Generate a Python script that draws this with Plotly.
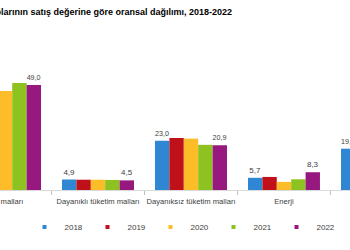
import plotly.graph_objects as go

categories = ["Ara malları", "Dayanıklı tüketim malları", "Dayanıksız tüketim malları", "Enerji", "Sermaye malları"]
years = ["2018", "2019", "2020", "2021", "2022"]
v2018 = [47.1, 4.9, 23.0, 5.7, 19.3]
v2019 = [45.5, 4.8, 24.3, 6.1, 19.3]
v2020 = [46.3, 4.8, 24.0, 3.8, 21.1]
v2021 = [50.0, 4.7, 21.1, 5.0, 19.2]
v2022 = [49.0, 4.5, 20.9, 8.3, 17.3]
series = [v2018, v2019, v2020, v2021, v2022]
labeled = ["2018", "2022"]
colors = ["#2f87d3", "#c0111b", "#fdbd28", "#8dc220", "#97197f"]

FONT = "Arial, Liberation Sans, sans-serif"
fig = go.Figure()
for yr, vals, col in zip(years, series, colors):
    txt = [f"{v:.1f}".replace(".", ",") for v in vals] if yr in labeled else None
    fig.add_trace(go.Bar(
        x=categories, y=vals, name=yr, marker_color=col, marker_line_width=0,
        text=txt, textposition="outside", cliponaxis=False,
        textfont=dict(size=8, color="#404040", family=FONT),
        showlegend=False,
    ))
    fig.add_trace(go.Scatter(
        x=[None], y=[None], mode="markers", name=yr,
        marker=dict(symbol="square", size=4, color=col),
        showlegend=True,
    ))

fig.update_layout(
    width=350, height=250,
    margin=dict(l=0, r=0, t=50, b=60, autoexpand=False),
    paper_bgcolor="white", plot_bgcolor="white",
    barmode="group", bargap=0.226, bargroupgap=0,
    font=dict(family=FONT, size=8, color="#404040"),
    xaxis=dict(type="category", range=[-0.054, 3.71], tickson="boundaries",
               ticks="outside", ticklen=4, tickcolor="#bfbfbf", tickangle=0,
               automargin=False, ticklabelstandoff=4,
               showline=True, linecolor="#d9d9d9", linewidth=1,
               showgrid=False, tickfont=dict(size=7.6, color="#404040")),
    yaxis=dict(range=[0, 65.4], visible=False, automargin=False),
    showlegend=True,
    legend=dict(orientation="h", x=0.07, xanchor="left", y=-0.264, yanchor="middle",
                entrywidth=18, entrywidthmode="pixels", font=dict(size=8, color="#404040"),
                tracegroupgap=0, itemwidth=30),
    annotations=[dict(text="<b>Ana sanayi gruplarının satış değerine göre oransal dağılımı, 2018-2022</b>",
                      xref="paper", yref="paper", x=234/350, y=(190-12)/140, xanchor="right",
                      yanchor="middle", showarrow=False, font=dict(size=9, color="#000000", family=FONT))],
)
fig.write_html("out.html")
